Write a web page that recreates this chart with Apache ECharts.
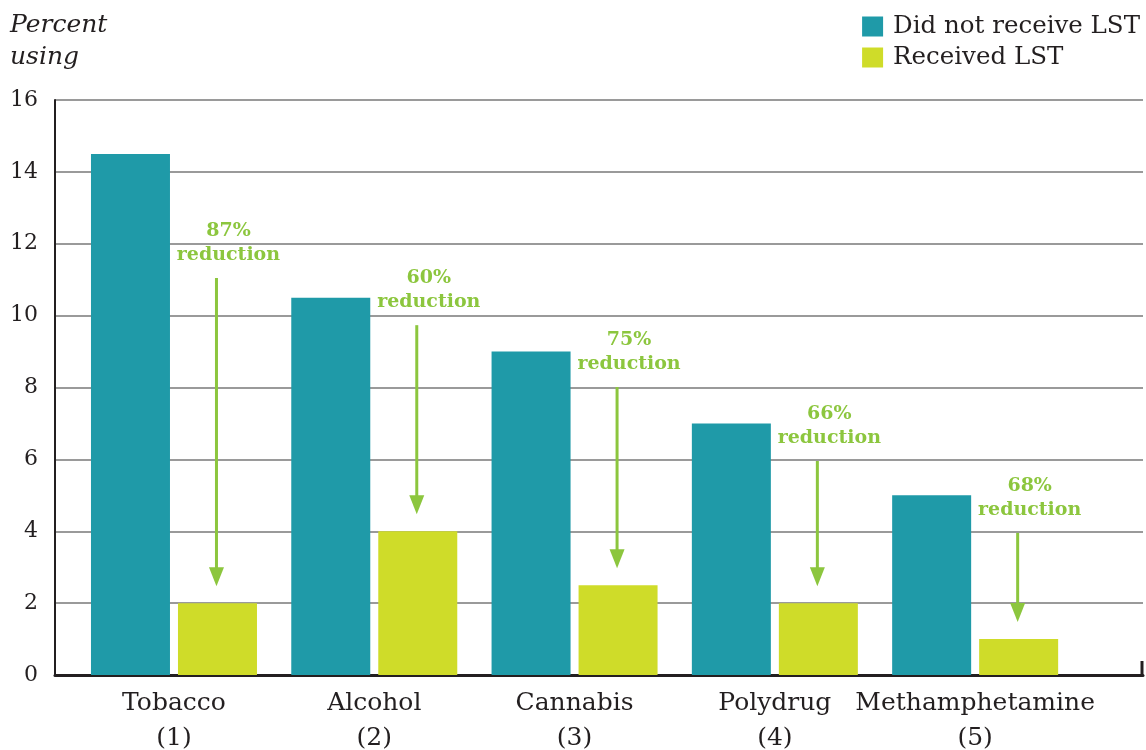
<!DOCTYPE html>
<html>
<head>
<meta charset="utf-8">
<script src="https://cdn.jsdelivr.net/npm/echarts@6/dist/echarts.min.js"></script>
<style>
  html, body { margin: 0; padding: 0; background: #fff; }
  #chart { width: 1146px; height: 750px; }
</style>
</head>
<body>
<div id="chart"></div>
<script>
// Substance use with and without LST
const categories = ['Tobacco', 'Alcohol', 'Cannabis', 'Polydrug', 'Methamphetamine'];
const notReceived = [14.5, 10.5, 9, 7, 5];
const received = [2, 4, 2.5, 2, 1];
const reductions = ['87%', '60%', '75%', '66%', '68%'];
const yTicks = [0, 2, 4, 6, 8, 10, 12, 14, 16];

// Height (in axis units) where each reduction note sits
const noteLevels = [12.38, 11.07, 9.35, 7.29, 5.29];

const TEAL = '#1f9aa8';
const LIME = '#cfdc29';
const NOTE = '#8cc63e';
const INK = '#231f20';
const FONT = '"DejaVu Serif", serif';

const chart = echarts.init(document.getElementById('chart'));

const BAR_W = 79;
const BAR_GAP = 8;

chart.setOption({
  animation: false,
  textStyle: { fontFamily: FONT, color: INK },
  grid: { left: 55, right: 3, top: 100, bottom: 75, outerBoundsMode: 'none', containLabel: false },
  legend: {
    orient: 'vertical',
    right: 1,
    top: 9,
    itemWidth: 21,
    itemHeight: 20,
    itemGap: 6,
    icon: 'rect',
    textStyle: { fontFamily: FONT, fontSize: 24.5, color: INK, padding: [0, 0, 0, 5] },
    data: ['Did not receive LST', 'Received LST']
  },
  xAxis: {
    type: 'value',
    min: -0.594,
    max: 4.838,
    splitLine: { show: false },
    axisTick: { show: false },
    axisLine: { show: true, onZero: false, lineStyle: { color: INK, width: 3 } },
    axisLabel: {
      customValues: categories.map((_, i) => i),
      formatter: v => {
        const i = Math.round(v);
        return categories[i] + '\n(' + (i + 1) + ')';
      },
      fontFamily: FONT,
      fontSize: 25,
      lineHeight: 35,
      color: INK,
      margin: 11,
      showMinLabel: true,
      showMaxLabel: true
    }
  },
  yAxis: {
    type: 'value',
    min: 0,
    max: 16,
    interval: 2,
    axisLine: { show: true, onZero: false, lineStyle: { color: INK, width: 2 } },
    axisTick: { show: false },
    splitLine: { show: true, lineStyle: { color: '#9a9a9a', width: 2 } },
    axisLabel: {
      fontFamily: FONT,
      fontSize: 22,
      color: INK,
      margin: 17,
      formatter: v => (yTicks.includes(v) ? String(v) : '')
    }
  },
  series: [
    {
      name: 'Did not receive LST',
      type: 'bar',
      barWidth: BAR_W,
      barGap: (BAR_GAP / BAR_W * 100) + '%',
      itemStyle: { color: TEAL },
      data: notReceived.map((v, i) => [i, v])
    },
    {
      name: 'Received LST',
      type: 'bar',
      barWidth: BAR_W,
      itemStyle: { color: LIME },
      data: received.map((v, i) => [i, v])
    }
  ],
  graphic: [
    {
      type: 'text',
      left: 10,
      top: 9,
      style: {
        text: 'Percent\nusing',
        font: 'italic 25px ' + FONT,
        lineHeight: 32,
        fill: INK
      }
    }
  ]
});

// Reduction notes with arrows pointing down to the LST bars
function drawNotes() {
  const els = [];
  const half = (BAR_W + BAR_GAP) / 2;
  categories.forEach((_, i) => {
    const base = chart.convertToPixel({ gridIndex: 0 }, [i, 0]);
    const x = base[0] + half;
    const topBar = chart.convertToPixel({ gridIndex: 0 }, [i, received[i]])[1];
    const noteY = chart.convertToPixel({ gridIndex: 0 }, [i, noteLevels[i]])[1];
    const tipY = topBar - 17;
    const headH = 19;
    const startY = noteY + 48;
    els.push({
      type: 'text',
      x: x + 11,
      y: noteY,
      style: {
        text: reductions[i] + '\nreduction',
        font: 'bold 19px ' + FONT,
        lineHeight: 24,
        fill: NOTE,
        align: 'center',
        verticalAlign: 'top',
        y: -11
      },
      z: 10
    });
    els.push({
      type: 'line',
      shape: { x1: x - 1, y1: startY, x2: x - 1, y2: tipY - headH + 2 },
      style: { stroke: NOTE, lineWidth: 3 },
      z: 10
    });
    els.push({
      type: 'polygon',
      shape: { points: [[x - 8.5, tipY - headH], [x + 6.5, tipY - headH], [x - 1, tipY]] },
      style: { fill: NOTE },
      z: 10
    });
  });
  // small upright tick closing the baseline on the right
  const corner = chart.convertToPixel({ gridIndex: 0 }, [4.838, 0]);
  els.push({
    type: 'line',
    shape: { x1: corner[0] - 1, y1: corner[1] + 1, x2: corner[0] - 1, y2: corner[1] - 14 },
    style: { stroke: INK, lineWidth: 3 },
    z: 10
  });
  chart.setOption({ graphic: els.map((e, k) => Object.assign({ id: 'note' + k }, e)) });
}
drawNotes();
</script>
</body>
</html>
